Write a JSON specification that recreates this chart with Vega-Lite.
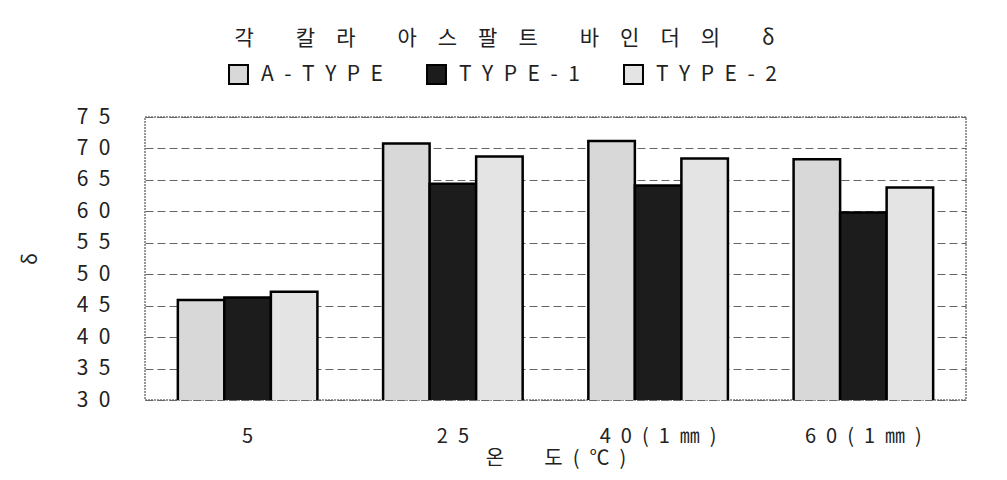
{
  "$schema": "https://vega.github.io/schema/vega-lite/v6.json",
  "width": 821,
  "height": 283,
  "autosize": {"type": "none"},
  "padding": {"left": 145, "top": 117, "right": 41, "bottom": 80},
  "background": "white",
  "config": {
    "font": "Noto Sans CJK KR",
    "view": {"stroke": "#777", "strokeDash": [2, 1], "strokeWidth": 1.5},
    "axis": {"labelFont": "Noto Sans CJK KR", "titleFont": "Noto Sans CJK KR", "labelColor": "#222", "titleColor": "#222", "titleFontWeight": "normal"},
    "legend": {"labelFont": "Noto Sans CJK KR"}
  },
  "title": {
    "text": "각\u2003\u2003칼\u2003라\u2003\u2003아\u2003스\u2003팔\u2003트\u2003\u2003바\u2003인\u2003더\u2003의\u2003\u2003δ",
    "anchor": "middle",
    "dx": -51,
    "fontSize": 21,
    "fontWeight": "normal",
    "color": "#222",
    "font": "Noto Sans CJK KR",
    "offset": 15
  },
  "data": {
    "values": [
      {"temp": "5", "type": "A-TYPE", "delta": 45.9},
      {"temp": "5", "type": "TYPE-1", "delta": 46.3},
      {"temp": "5", "type": "TYPE-2", "delta": 47.2},
      {"temp": "25", "type": "A-TYPE", "delta": 70.8},
      {"temp": "25", "type": "TYPE-1", "delta": 64.4},
      {"temp": "25", "type": "TYPE-2", "delta": 68.7},
      {"temp": "40(1㎜)", "type": "A-TYPE", "delta": 71.2},
      {"temp": "40(1㎜)", "type": "TYPE-1", "delta": 64.1},
      {"temp": "40(1㎜)", "type": "TYPE-2", "delta": 68.4},
      {"temp": "60(1㎜)", "type": "A-TYPE", "delta": 68.3},
      {"temp": "60(1㎜)", "type": "TYPE-1", "delta": 59.8},
      {"temp": "60(1㎜)", "type": "TYPE-2", "delta": 63.8}
    ]
  },
  "mark": {"type": "bar", "stroke": "black", "strokeWidth": 2.5, "clip": true},
  "encoding": {
    "x": {
      "field": "temp",
      "type": "nominal",
      "sort": ["5", "25", "40(1㎜)", "60(1㎜)"],
      "scale": {"paddingInner": 0.32, "paddingOuter": 0.16},
      "axis": {
        "title": "온\u2003\u2003도\u2002(\u2002℃\u2002)",
        "titleFontSize": 20,
        "titlePadding": 2,
        "labelAngle": 0,
        "labelFontSize": 20,
        "labelPadding": 26,
        "ticks": false,
        "domain": false,
        "labelExpr": "join(split(datum.label, ''), '\u2002')"
      }
    },
    "xOffset": {"field": "type", "type": "nominal", "sort": ["A-TYPE", "TYPE-1", "TYPE-2"]},
    "y": {
      "field": "delta",
      "type": "quantitative",
      "scale": {"domain": [30, 75], "nice": false},
      "axis": {
        "title": "δ",
        "titleFontSize": 20,
        "titlePadding": 36,
        "values": [30, 35, 40, 45, 50, 55, 60, 65, 70, 75],
        "labelFontSize": 21,
        "labelPadding": 35,
        "ticks": false,
        "domain": false,
        "grid": true,
        "gridColor": "#666",
        "gridDash": [8, 4],
        "gridWidth": 1,
        "labelExpr": "join(split(datum.label, ''), '\u2002')"
      }
    },
    "fill": {
      "field": "type",
      "type": "nominal",
      "sort": ["A-TYPE", "TYPE-1", "TYPE-2"],
      "scale": {"domain": ["A-TYPE", "TYPE-1", "TYPE-2"], "range": ["#d8d8d8", "#1c1c1c", "#e4e4e4"]},
      "legend": {
        "title": null,
        "orient": "none",
        "legendX": 83,
        "legendY": -53,
        "direction": "horizontal",
        "symbolType": "square",
        "symbolSize": 360,
        "symbolStrokeColor": "black",
        "symbolStrokeWidth": 2,
        "labelFontSize": 21,
        "labelColor": "#222",
        "labelOffset": 12,
        "columnPadding": 40,
        "labelExpr": "join(split(datum.label, ''), '\u2002')"
      }
    }
  }
}
